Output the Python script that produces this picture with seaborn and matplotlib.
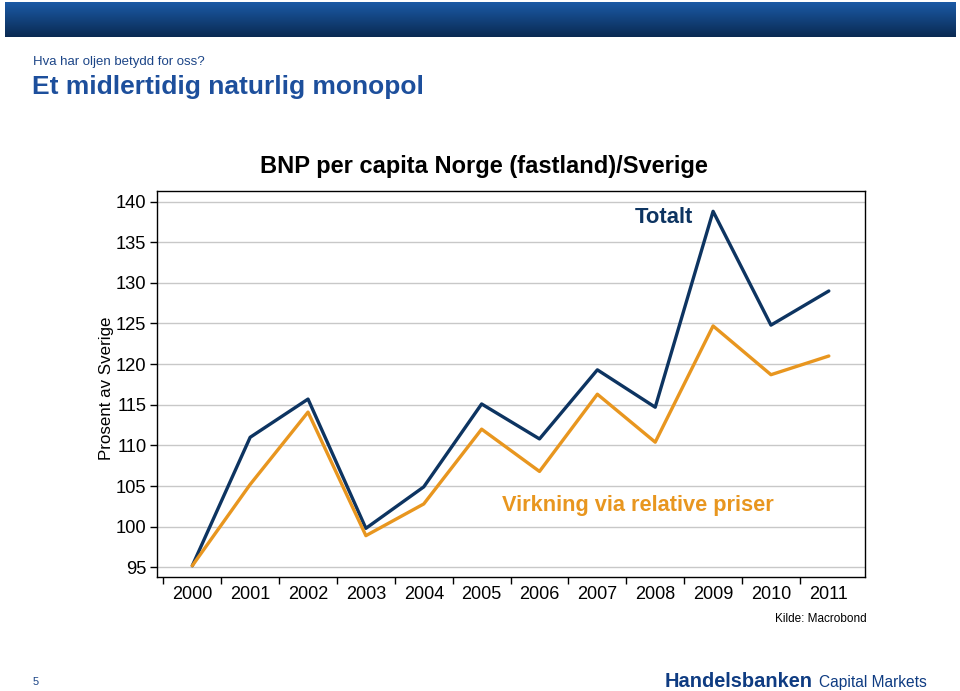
import numpy as np
import pandas as pd
import seaborn as sns
import matplotlib.pyplot as plt
from matplotlib.colors import LinearSegmentedColormap

# data
years = list(range(2000, 2012))
totalt = [95.2, 111.0, 115.7, 99.8, 104.9, 115.1, 110.8, 119.3, 114.7, 138.8, 124.8, 129.0]
relative_priser = [95.2, 105.2, 114.1, 98.9, 102.8, 112.0, 106.8, 116.3, 110.4, 124.7, 118.7, 121.0]
y_ticks = [95, 100, 105, 110, 115, 120, 125, 130, 135, 140]

navy = "#0d3461"
orange = "#e8961f"

sns.set_style("white")
plt.rcParams['font.family'] = ['Liberation Sans', 'DejaVu Sans']
plt.rcParams['text.color'] = 'black'
plt.rcParams['axes.labelcolor'] = 'black'
plt.rcParams['xtick.color'] = 'black'
plt.rcParams['ytick.color'] = 'black'

df = pd.DataFrame({
    "year": years * 2,
    "value": totalt + relative_priser,
    "serie": ["Totalt"] * len(years) + ["Virkning via relative priser"] * len(years),
})

fig = plt.figure(figsize=(9.6, 6.91), dpi=100)

# header bar with gradient
hdr = fig.add_axes([5 / 960, 1 - 37 / 691, 950 / 960, 35 / 691])
grad = np.linspace(0, 1, 100).reshape(-1, 1)
cm = LinearSegmentedColormap.from_list("hdr", ["#1b5aa6", "#0a2a52"])
hdr.imshow(grad, aspect="auto", cmap=cm, extent=[0, 1, 0, 1])
hdr.axis("off")

fig.text(33 / 960, 1 - 62 / 691, "Hva har oljen betydd for oss?", fontsize=9.5,
         color="#1c4587", va="center", ha="left")
fig.text(32 / 960, 1 - 87 / 691, "Et midlertidig naturlig monopol", fontsize=19,
         fontweight="bold", color="#1d4f9c", va="center", ha="left")

ax = fig.add_axes([156.7 / 960, 1 - 576.7 / 691, 708 / 960, 385.7 / 691])
sns.lineplot(data=df, x="year", y="value", hue="serie", palette=[navy, orange],
             linewidth=2.4, ax=ax, legend=False)

ax.set_xlim(1999.385, 2011.62)
ax.set_ylim(93.85, 141.3)
ax.set_yticks(y_ticks)
ax.set_xticks(years)
ax.set_xticks([y - 0.5 for y in years], minor=True)
ax.tick_params(axis="x", which="major", length=0, pad=7, labelsize=13, bottom=True)
ax.tick_params(axis="x", which="minor", length=5, width=1, direction="out",
               color="black", bottom=True)
ax.tick_params(axis="y", which="major", length=5, width=1, direction="out", color="black",
               pad=2.5, labelsize=13.2, left=True)
ax.yaxis.grid(True, color="#c8c8c8", linewidth=1)
ax.xaxis.grid(False)
for s in ax.spines.values():
    s.set_color("black")
    s.set_linewidth(1)
ax.set_xlabel("")
ax.set_ylabel("Prosent av Sverige", fontsize=12.2)
ax.yaxis.set_label_coords(-0.0603, 0.489)

ax.set_title("BNP per capita Norge (fastland)/Sverige", fontsize=17, fontweight="bold",
             pad=13, x=0.462, color="black")

ax.text(2007.64, 138.1, "Totalt", color=navy, fontsize=15.8, fontweight="bold",
        va="center", ha="left")
ax.text(2005.36, 102.67, "Virkning via relative priser", color=orange, fontsize=15.7,
        fontweight="bold", va="center", ha="left")

fig.text(867 / 960, 1 - 619 / 691, "Kilde: Macrobond", fontsize=8.5, ha="right", va="center")
fig.text(33 / 960, 1 - 682 / 691, "5", fontsize=8, color="#1c4587", ha="left", va="center")
fig.text(665 / 960, 1 - 687 / 691, "Handelsbanken", fontsize=14.4, fontweight="bold",
         color="#0f3c82", ha="left", va="baseline")
fig.text(927 / 960, 1 - 687 / 691, "Capital Markets", fontsize=11.2,
         color="#0f3c82", ha="right", va="baseline")

fig.savefig("out.png", dpi=100)
